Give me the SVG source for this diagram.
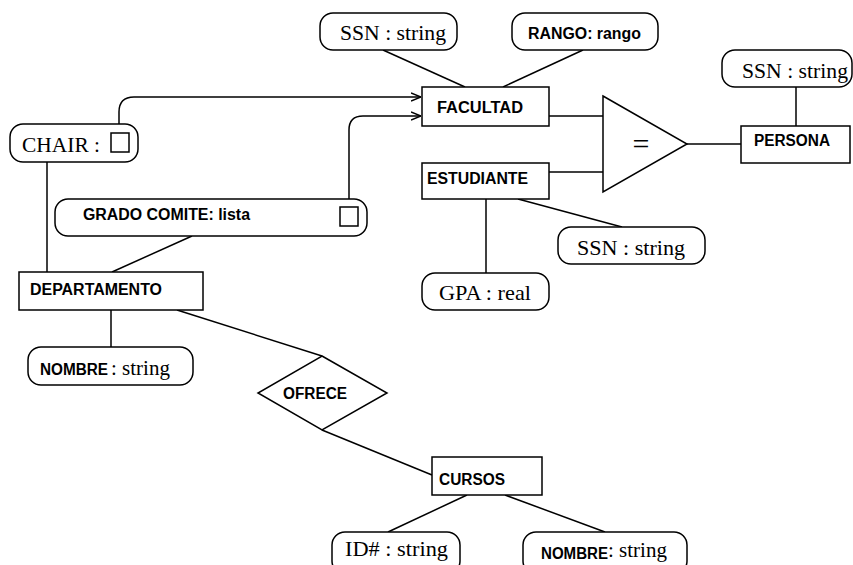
<svg xmlns="http://www.w3.org/2000/svg" width="853" height="565" viewBox="0 0 853 565">
<defs>
<style>
.box{fill:#fff;stroke:#000;stroke-width:1.5}
.pill{fill:#fff;stroke:#000;stroke-width:1.5}
.ln{fill:none;stroke:#000;stroke-width:1.5}
.b{font-family:"Liberation Sans",Arial,sans-serif;font-weight:bold;font-size:16px;fill:#000}
.s{font-family:"Liberation Serif","Times New Roman",serif;font-size:21px;fill:#000}
</style>
<marker id="arr" viewBox="0 0 10 10" refX="10" refY="5" markerWidth="10" markerHeight="10" markerUnits="userSpaceOnUse" orient="auto">
<path d="M0,1 L10,5 L0,9" fill="none" stroke="#000" stroke-width="1.5"/>
</marker>
</defs>
<rect width="853" height="565" fill="#fff"/>
<g id="connectors">
<line class="ln" x1="383" y1="50" x2="465" y2="87"/>
<line class="ln" x1="583" y1="50" x2="503" y2="87"/>
<path class="ln" d="M119,133 V112 Q119,97 134,97 H421" marker-end="url(#arr)"/>
<path class="ln" d="M349,207 V130 Q349,116 363,116 H421" marker-end="url(#arr)"/>
<line class="ln" x1="549" y1="116" x2="603" y2="116"/>
<line class="ln" x1="549" y1="172" x2="603" y2="172"/>
<line class="ln" x1="687" y1="144" x2="741" y2="144"/>
<line class="ln" x1="796" y1="87" x2="796" y2="126"/>
<line class="ln" x1="518" y1="199" x2="622" y2="227"/>
<line class="ln" x1="486" y1="199" x2="486" y2="273"/>
<line class="ln" x1="47" y1="162" x2="47" y2="272"/>
<line class="ln" x1="192" y1="236" x2="112" y2="272"/>
<line class="ln" x1="111" y1="310" x2="111" y2="347"/>
<line class="ln" x1="177" y1="310" x2="322" y2="356"/>
<line class="ln" x1="322" y1="430" x2="432" y2="475"/>
<line class="ln" x1="467" y1="495" x2="388" y2="532"/>
<line class="ln" x1="505" y1="495" x2="605" y2="532"/>
</g>
<g id="ssn-facultad">
<rect class="pill" x="320" y="13" width="137" height="37" rx="13"/>
<text class="s" x="340" y="40" textLength="106" lengthAdjust="spacingAndGlyphs">SSN : string</text>
</g>
<g id="rango">
<rect class="pill" x="512" y="13" width="146" height="37" rx="13"/>
<text class="b" x="528" y="39" textLength="113" lengthAdjust="spacingAndGlyphs">RANGO: rango</text>
</g>
<g id="facultad">
<rect class="box" x="422" y="87" width="127" height="39"/>
<text class="b" x="437" y="113" textLength="86" lengthAdjust="spacingAndGlyphs">FACULTAD</text>
</g>
<g id="estudiante">
<rect class="box" x="422" y="163" width="127" height="36"/>
<text class="b" x="427" y="184" textLength="101" lengthAdjust="spacingAndGlyphs">ESTUDIANTE</text>
</g>
<g id="isa">
<polygon class="box" points="603,96 687,144 603,192"/>
<text class="s" x="641" y="154" text-anchor="middle" style="font-size:30px">=</text>
</g>
<g id="persona">
<rect class="box" x="741" y="126" width="109" height="37"/>
<text class="b" x="754" y="146" textLength="76" lengthAdjust="spacingAndGlyphs">PERSONA</text>
</g>
<g id="ssn-persona">
<rect class="pill" x="722" y="50" width="130" height="37" rx="13"/>
<text class="s" x="742" y="78" textLength="106" lengthAdjust="spacingAndGlyphs">SSN : string</text>
</g>
<g id="ssn-estudiante">
<rect class="pill" x="558" y="227" width="147" height="37" rx="13"/>
<text class="s" x="577" y="255" textLength="108" lengthAdjust="spacingAndGlyphs">SSN : string</text>
</g>
<g id="gpa">
<rect class="pill" x="422" y="273" width="127" height="37" rx="13"/>
<text class="s" x="439" y="300" textLength="92" lengthAdjust="spacingAndGlyphs">GPA : real</text>
</g>
<g id="chair">
<rect class="pill" x="10" y="124" width="128" height="38" rx="13"/>
<text class="s" x="22" y="152" textLength="78" lengthAdjust="spacingAndGlyphs">CHAIR :</text>
<rect class="box" x="111" y="133" width="18" height="19"/>
</g>
<g id="grado-comite">
<rect class="pill" x="55" y="199" width="312" height="37" rx="13"/>
<text class="b" x="83" y="220" textLength="167" lengthAdjust="spacingAndGlyphs">GRADO COMITE: lista</text>
<rect class="box" x="340" y="207" width="18" height="19"/>
</g>
<g id="departamento">
<rect class="box" x="19" y="272" width="184" height="38"/>
<text class="b" x="30" y="295" textLength="132" lengthAdjust="spacingAndGlyphs">DEPARTAMENTO</text>
</g>
<g id="nombre-depto">
<rect class="pill" x="28" y="347" width="165" height="38" rx="13"/>
<text class="b" x="40" y="375" textLength="68" lengthAdjust="spacingAndGlyphs">NOMBRE</text>
<text class="s" x="111" y="375">: string</text>
</g>
<g id="ofrece">
<polygon class="box" points="322,356 387,393 322,430 258,393"/>
<text class="b" x="283" y="399" textLength="64" lengthAdjust="spacingAndGlyphs">OFRECE</text>
</g>
<g id="cursos">
<rect class="box" x="432" y="457" width="110" height="38"/>
<text class="b" x="439" y="485" textLength="66" lengthAdjust="spacingAndGlyphs">CURSOS</text>
</g>
<g id="id-cursos">
<rect class="pill" x="332" y="532" width="128" height="42" rx="13"/>
<text class="s" x="345" y="556" textLength="103" lengthAdjust="spacingAndGlyphs">ID# : string</text>
</g>
<g id="nombre-cursos">
<rect class="pill" x="523" y="532" width="164" height="42" rx="13"/>
<text class="b" x="541" y="559" textLength="67" lengthAdjust="spacingAndGlyphs">NOMBRE</text>
<text class="s" x="608" y="557">: string</text>
</g>
</svg>
